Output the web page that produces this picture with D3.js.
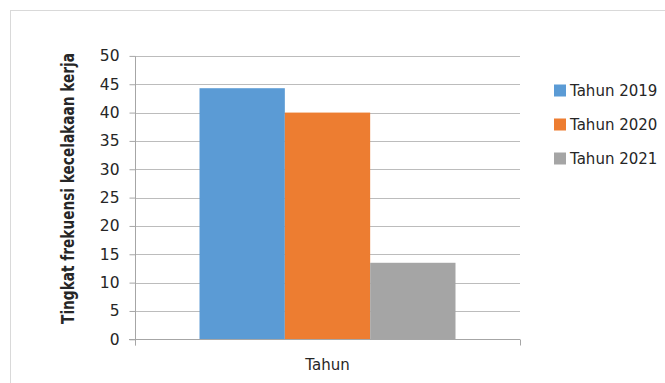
<!DOCTYPE html>
<html>
<head>
<meta charset="utf-8">
<script src="https://cdn.jsdelivr.net/npm/d3@7"></script>
<style>
  html, body { margin: 0; padding: 0; background: #fff; }
  svg { display: block; }
</style>
</head>
<body>
<div id="chart"></div>
<script>
const categories = ["Tahun"];
const seriesNames = ["Tahun 2019", "Tahun 2020", "Tahun 2021"];
const seriesValues = [44.3, 40, 13.5];
const yTicks = [0, 5, 10, 15, 20, 25, 30, 35, 40, 45, 50];
const colors = ["#5b9bd5", "#ed7d31", "#a5a5a5"];
const yTitle = "Tingkat frekuensi kecelakaan kerja";

(function () {
const W = 665, H = 383;
const svg = d3.select("#chart").append("svg").attr("width", W).attr("height", H);

// outer chart border
svg.append("rect").attr("x", 10.5).attr("y", 10.5).attr("width", W + 10).attr("height", H + 10)
  .attr("fill", "none").attr("stroke", "#d9d9d9").attr("stroke-width", 1);

const pLeft = 135, pRight = 520, pTop = 55.9, pBottom = 339.3;
const x = d3.scaleBand().domain(categories).range([pLeft, pRight]).padding(0);
const xs = d3.scaleBand().domain(seriesNames).range([0, x.bandwidth()]).paddingInner(0).paddingOuter(0.756);
const y = d3.scaleLinear().domain([0, 50]).range([pBottom, pTop]);

const font = "'DejaVu Sans', sans-serif";
const textColor = "#262626";

// gridlines
svg.append("g").selectAll("line").data(yTicks.filter(d => d > 0)).join("line")
  .attr("x1", pLeft).attr("x2", pRight)
  .attr("y1", d => Math.round(y(d)) + 0.5).attr("y2", d => Math.round(y(d)) + 0.5)
  .attr("stroke", "#bcbcbc").attr("stroke-width", 1);

// bars
const g = svg.append("g");
categories.forEach(cat => {
  g.selectAll("rect.bar").data(seriesNames.map((s, i) => ({ s, v: seriesValues[i], c: colors[i] }))).join("rect")
    .attr("class", "bar")
    .attr("x", d => x(cat) + xs(d.s))
    .attr("width", xs.bandwidth())
    .attr("y", d => y(d.v))
    .attr("height", d => y(0) - y(d.v))
    .attr("fill", d => d.c);
});

// y axis
const yAxis = svg.append("g").attr("transform", `translate(${pLeft + 0.5},0)`)
  .call(d3.axisLeft(y).tickValues(yTicks).tickSize(6).tickPadding(10).tickFormat(d3.format("d")));
yAxis.select(".domain").attr("stroke", "#a6a6a6").attr("d", `M0,${Math.round(pTop)+0.5}V${pBottom + 6}`);
yAxis.selectAll(".tick line").attr("stroke", "#a6a6a6");
yAxis.selectAll(".tick text").attr("font-family", font).attr("font-size", 15.5).attr("fill", textColor);

// x axis
const xAxisY = Math.round(pBottom) + 0.5;
const xg = svg.append("g");
xg.append("line").attr("x1", pLeft - 6).attr("x2", pRight).attr("y1", xAxisY).attr("y2", xAxisY).attr("stroke", "#a6a6a6");
xg.selectAll("line.bt").data([pLeft, pRight]).join("line").attr("class", "bt")
  .attr("x1", d => d + 0.5).attr("x2", d => d + 0.5).attr("y1", xAxisY).attr("y2", xAxisY + 6).attr("stroke", "#a6a6a6");
xg.selectAll("text").data(categories).join("text")
  .attr("x", d => x(d) + x.bandwidth() / 2).attr("y", 370)
  .attr("text-anchor", "middle").attr("font-family", font).attr("font-size", 15).attr("fill", textColor)
  .text(d => d);

// y title
svg.append("text").attr("transform", `translate(74,188.5) rotate(-90) scale(1,1.3)`)
  .attr("text-anchor", "middle").attr("font-family", font).attr("font-weight", "bold")
  .attr("font-size", 13.7).attr("fill", textColor).text(yTitle);

// legend
const lg = svg.append("g");
const items = lg.selectAll("g").data(seriesNames).join("g")
  .attr("transform", (d, i) => `translate(554,${90.5 + i * 34})`);
items.append("rect").attr("x", 0).attr("y", -6).attr("width", 12).attr("height", 12).attr("fill", (d, i) => colors[i]);
items.append("text").attr("x", 16).attr("y", 0).attr("dy", "0.36em")
  .attr("font-family", font).attr("font-size", 15).attr("fill", textColor).text(d => d);
})();
</script>
</body>
</html>
